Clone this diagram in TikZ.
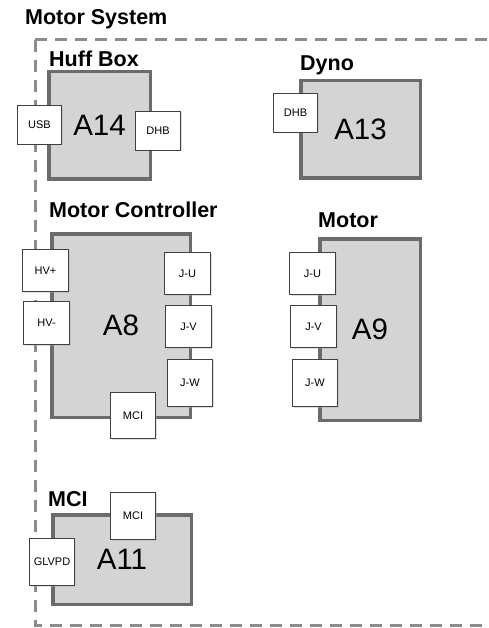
\documentclass[tikz,border=0pt]{standalone}
\usepackage{fontspec}
\setmainfont{Liberation Sans}
\usetikzlibrary{positioning, shadows}

\begin{document}
\begin{tikzpicture}[x=1pt, y=-1pt,
    unit/.style={draw=black!58, line width=3.5pt, fill=black!17, inner sep=0pt,
        font=\fontsize{29.5}{32}\selectfont,
        drop shadow={shadow xshift=1.5pt, shadow yshift=-1.5pt, fill=black!30, opacity=0.5}},
    port/.style={draw=black!75, line width=0.8pt, fill=white, inner sep=0pt,
        font=\fontsize{11}{13}\selectfont,
        drop shadow={shadow xshift=1pt, shadow yshift=-1pt, fill=black!30, opacity=0.4}},
    group/.style={anchor=base west, inner sep=0pt, font=\bfseries\fontsize{21.5}{24}\selectfont},
    boundary/.style={draw=black!45, line width=3pt, dash pattern=on 12pt off 8pt}
]
    \clip (0,0) rectangle (488,628);

    % System boundary
    \node[group] (sys) at (25,25) {Motor System};
    \draw[boundary] (35,40) -- (500,40);
    \draw[boundary] (35,40) -- (35,625.5) -- (500,625.5);

    % Units
    \node[unit, minimum width=101.5, minimum height=107.5] (a14) at (99.5,125.5) {A14};
    \node[unit, minimum width=119.5, minimum height=97.5] (a13) at (360.5,129.5) {A13};
    \node[unit, minimum width=138.5, minimum height=183.5] (a8) at (121,325.5) {A8};
    \node[unit, minimum width=100.5, minimum height=181.5] (a9) at (370,329.5) {A9};
    \node[unit, minimum width=138.5, minimum height=89.5] (a11) at (122,559.5) {A11};

    % Unit titles
    \node[group] (huff) at (49,67) {Huff Box};
    \node[group] (dyno) at (300,71) {Dyno};
    \node[group] (ctrl) at (49,218) {Motor Controller};
    \node[group] (motor) at (318,227) {Motor};
    \node[group] (mcigrp) at (48,506) {MCI};

    % Connectors
    \node[port, minimum width=44, minimum height=39] (usb) at (39.5,125) {USB};
    \node[port, minimum width=45, minimum height=39] (dhbA) at (158,131) {DHB};
    \node[port, minimum width=44, minimum height=39] (dhbB) at (295.5,113) {DHB};

    \node[port, minimum width=46, minimum height=42] (hvp) at (45.5,270.5) {HV+};
    \node[port, minimum width=46, minimum height=43] (hvm) at (46.5,323) {HV-};
    \node[port, minimum width=46, minimum height=42] (juA) at (187.5,273.5) {J-U};
    \node[port, minimum width=46, minimum height=42] (jvA) at (188.5,326.5) {J-V};
    \node[port, minimum width=45, minimum height=47] (jwA) at (190,383) {J-W};
    \node[port, minimum width=45, minimum height=46] (mciA) at (133,415.5) {MCI};

    \node[port, minimum width=46, minimum height=42] (juB) at (312.5,273.5) {J-U};
    \node[port, minimum width=46, minimum height=42] (jvB) at (313.5,326.5) {J-V};
    \node[port, minimum width=45, minimum height=47] (jwB) at (315,383) {J-W};

    \node[port, minimum width=45, minimum height=47] (mciB) at (133,516) {MCI};
    \node[port, minimum width=45, minimum height=47] (glvpd) at (52,562) {GLVPD};
\end{tikzpicture}
\end{document}
